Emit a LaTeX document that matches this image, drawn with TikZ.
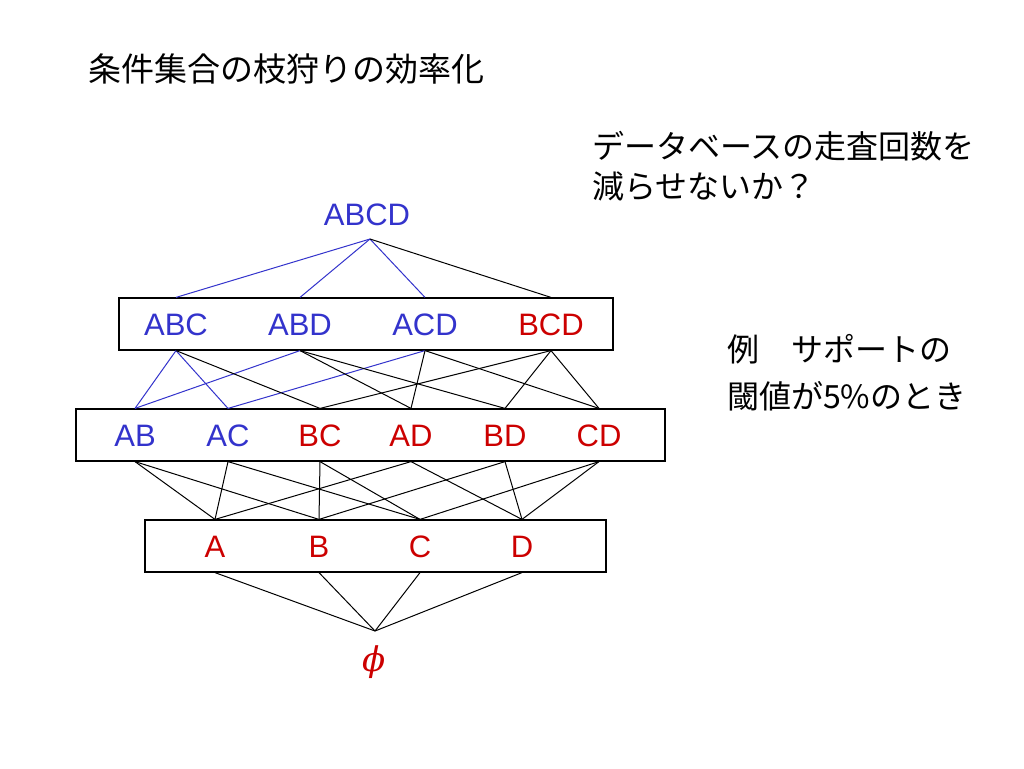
\documentclass[tikz,border=0pt]{standalone}
\usepackage{fontspec}
\setmainfont{Liberation Sans}
\newfontfamily\jp{Noto Sans CJK JP}
\newfontfamily\phifont{DejaVu Serif}
\definecolor{lblue}{RGB}{51,51,204}
\definecolor{lred}{RGB}{204,0,0}
\begin{document}
\begin{tikzpicture}[x=1pt,y=-1pt,
  lbl/.style={font=\fontsize{31}{36}\selectfont, inner sep=0pt},
  bl/.style={lbl,text=lblue},
  rd/.style={lbl,text=lred},
  box/.style={draw=black,line width=1.2pt,minimum height=52pt,inner sep=0pt},
  bline/.style={draw=lblue,line width=1pt},
  kline/.style={draw=black,line width=1pt},
  jtxt/.style={font=\jp\fontsize{32}{38}\selectfont,anchor=west,inner sep=0pt}]
\useasboundingbox[fill=white] (0,0) rectangle (1024,768);

% titles
\node[jtxt,font=\jp\fontsize{33}{38}\selectfont] (title) at (88,69) {条件集合の枝狩りの効率化};
\node[jtxt] (q1) at (592,146) {データベースの走査回数を};
\node[jtxt] (q2) at (592,186) {減らせないか？};
\node[jtxt] (e1) at (727,349) {例　サポートの};
\node[jtxt] (e2) at (727,396) {閾値が5\%のとき};

% boxes
\node[box,minimum width=494pt] (B1) at (366,324) {};
\node[box,minimum width=589pt] (B2) at (370.5,435) {};
\node[box,minimum width=461pt] (B3) at (375.5,546) {};

% labels
\node[bl] (ABCD) at (367,215) {ABCD};
\node[bl] (ABC) at (176,325) {ABC};
\node[bl] (ABD) at (300,325) {ABD};
\node[bl] (ACD) at (425,325) {ACD};
\node[rd] (BCD) at (551,325) {BCD};
\node[bl] (AB) at (135,436) {AB};
\node[bl] (AC) at (228,436) {AC};
\node[rd] (BC) at (320,436) {BC};
\node[rd] (AD) at (411,436) {AD};
\node[rd] (BD) at (505,436) {BD};
\node[rd] (CD) at (599,436) {CD};
\node[rd] (A) at (215,547) {A};
\node[rd] (B) at (319,547) {B};
\node[rd] (C) at (420,547) {C};
\node[rd] (D) at (522,547) {D};
\node[rd,font=\phifont\itshape\fontsize{34}{38}\selectfont] (phi) at (374,662) {ϕ};

\coordinate (top) at (370,239);
\coordinate (bot) at (375,631);

% top level
\foreach \n in {ABC,ABD,ACD}
  \draw[bline] (top) -- (\n |- B1.north);
\draw[kline] (top) -- (BCD |- B1.north);

% level 3 -> level 2
\foreach \a/\b in {ABC/AB,ABC/AC,ABD/AB,ACD/AC}
  \draw[bline] (\a |- B1.south) -- (\b |- B2.north);
\foreach \a/\b in {ABC/BC,ABD/AD,ABD/BD,ACD/AD,ACD/CD,BCD/BC,BCD/BD,BCD/CD}
  \draw[kline] (\a |- B1.south) -- (\b |- B2.north);

% level 2 -> level 1
\foreach \a/\b in {AB/A,AB/B,AC/A,AC/C,BC/B,BC/C,AD/A,AD/D,BD/B,BD/D,CD/C,CD/D}
  \draw[kline] (\a |- B2.south) -- (\b |- B3.north);

% level 1 -> empty set
\foreach \a in {A,B,C,D}
  \draw[kline] (\a |- B3.south) -- (bot);
\end{tikzpicture}
\end{document}
